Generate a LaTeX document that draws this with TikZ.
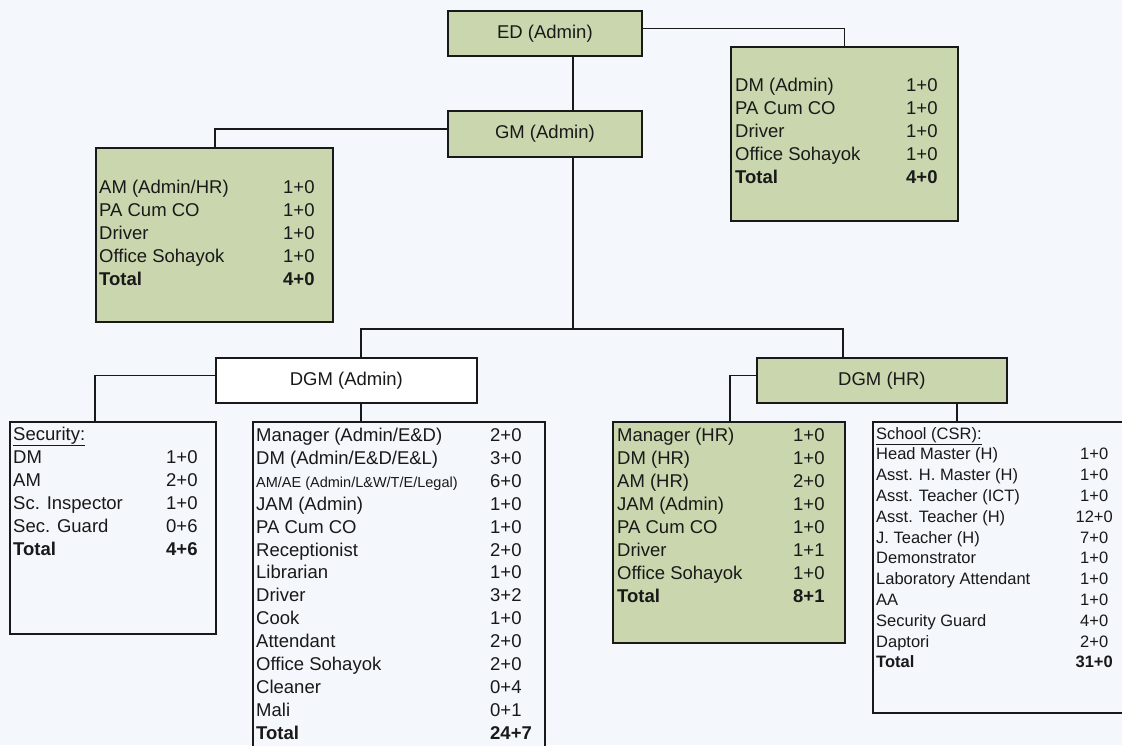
\documentclass[tikz,border=0pt]{standalone}
\usepackage{fontspec}
\setmainfont{Liberation Sans}
\usepackage{array}
\definecolor{bg}{RGB}{244,247,251}
\definecolor{boxgreen}{RGB}{201,214,174}
\definecolor{ink}{RGB}{25,25,25}
\tikzset{
  box/.style={draw=ink, line width=1.8pt, inner sep=0pt, anchor=north west,
    font=\fontsize{18.5}{22}\selectfont, text=ink},
  greenbox/.style={box, fill=boxgreen},
  whitebox/.style={box, fill=white},
  plainbox/.style={box, fill=bg},
  conn/.style={draw=ink, line width=1.8pt},
  listtext/.style={inner sep=0pt, anchor=base west, text=ink,
    font=\fontsize{18.5}{23}\selectfont},
}
\begin{document}
\begin{tikzpicture}[x=1pt,y=-1pt]
\useasboundingbox (0,0) rectangle (1122,745);
\fill[bg] (0,0) rectangle (1122,745);
\clip (0,0) rectangle (1122,745);

% boxes
\node[greenbox, minimum width=194pt, minimum height=45pt] (ed) at (447,10) {ED (Admin)};
\node[greenbox, minimum width=227pt, minimum height=174pt] (dm) at (730,46) {};
\node[greenbox, minimum width=194pt, minimum height=46pt] (gm) at (447,110) {GM (Admin)};
\node[greenbox, minimum width=237pt, minimum height=174pt] (am) at (95,147) {};
\node[whitebox, minimum width=261pt, minimum height=45pt] (dgma) at (215,357) {DGM (Admin)};
\node[greenbox, minimum width=250pt, minimum height=45pt] (dgmh) at (756,357) {DGM (HR)};
\node[plainbox, minimum width=206pt, minimum height=212pt] (sec) at (9,421) {};
\node[plainbox, minimum width=292pt, minimum height=360pt] (adml) at (252,421) {};
\node[greenbox, minimum width=232pt, minimum height=221pt] (hrl) at (612,421) {};
\node[plainbox, minimum width=280pt, minimum height=291pt] (sch) at (872,421) {};

% helper coordinates
\coordinate (barL) at (361,329);
\coordinate (barR) at (843,329);
\coordinate (vx) at (573,0);
\coordinate (ax) at (215,0);
\coordinate (sx) at (95,0);
\coordinate (hx) at (730,0);
\coordinate (scx) at (957,0);

% connectors
\draw[conn] ([yshift=5pt]ed.east) -| (dm.north);
\draw[conn] (ed.south -| vx) -- (gm.north -| vx);
\draw[conn] ([yshift=5pt]gm.west) -| (am.north -| ax);
\draw[conn] (gm.south -| vx) -- (barL -| vx);
\draw[conn] (dgma.north -| barL) |- (barR) -- (dgmh.north -| barR);
\draw[conn] (dgma.south -| barL) -- (adml.north -| barL);
\draw[conn] ([yshift=5pt]dgma.west) -| (sec.north -| sx);
\draw[conn] ([yshift=5pt]dgmh.west) -| (hrl.north -| hx);
\draw[conn] (dgmh.south -| scx) -- (sch.north -| scx);

% lists
\node[listtext] (dmtext) at (735,91.5) {\begin{tabular}[t]{@{}p{171pt}@{}l@{}}
DM (Admin) & 1+0\\
PA Cum CO & 1+0\\
Driver & 1+0\\
Office Sohayok & 1+0\\
\textbf{Total} & \textbf{4+0}
\end{tabular}};

\node[listtext] (amtext) at (99,193.5) {\begin{tabular}[t]{@{}p{184pt}@{}l@{}}
AM (Admin/HR) & 1+0\\
PA Cum CO & 1+0\\
Driver & 1+0\\
Office Sohayok & 1+0\\
\textbf{Total} & \textbf{4+0}
\end{tabular}};

\node[listtext] (sectext) at (13,440) {\begin{tabular}[t]{@{}p{153pt}@{}l@{}}
\underline{Security:} & \\
DM & 1+0\\
AM & 2+0\\
Sc. Inspector & 1+0\\
Sec. Guard & 0+6\\
\textbf{Total} & \textbf{4+6}
\end{tabular}};

\node[listtext, font=\fontsize{18.5}{22.9}\selectfont] (admtext) at (256,441.5) {\begin{tabular}[t]{@{}p{234pt}@{}l@{}}
Manager (Admin/E\&D) & 2+0\\
DM (Admin/E\&D/E\&L) & 3+0\\
{\fontsize{14.5}{22.9}\selectfont AM/AE (Admin/L\&W/T/E/Legal)} & 6+0\\
JAM (Admin) & 1+0\\
PA Cum CO & 1+0\\
Receptionist & 2+0\\
Librarian & 1+0\\
Driver & 3+2\\
Cook & 1+0\\
Attendant & 2+0\\
Office Sohayok & 2+0\\
Cleaner & 0+4\\
Mali & 0+1\\
\textbf{Total} & \textbf{24+7}
\end{tabular}};

\node[listtext] (hrtext) at (617,441.5) {\begin{tabular}[t]{@{}p{176pt}@{}l@{}}
Manager (HR) & 1+0\\
DM (HR) & 1+0\\
AM (HR) & 2+0\\
JAM (Admin) & 1+0\\
PA Cum CO & 1+0\\
Driver & 1+1\\
Office Sohayok & 1+0\\
\textbf{Total} & \textbf{8+1}
\end{tabular}};

\node[listtext, font=\fontsize{16.5}{20.8}\selectfont] (schtext) at (876,439) {\begin{tabular}[t]{@{}p{193pt}@{}>{\centering\arraybackslash}p{50pt}@{}}
\underline{School (CSR):} & \\
Head Master (H) & 1+0\\
Asst. H. Master (H) & 1+0\\
Asst. Teacher (ICT) & 1+0\\
Asst. Teacher (H) & 12+0\\
J. Teacher (H) & 7+0\\
Demonstrator & 1+0\\
Laboratory Attendant & 1+0\\
AA & 1+0\\
Security Guard & 4+0\\
Daptori & 2+0\\
\textbf{Total} & \textbf{31+0}
\end{tabular}};
\end{tikzpicture}
\end{document}
